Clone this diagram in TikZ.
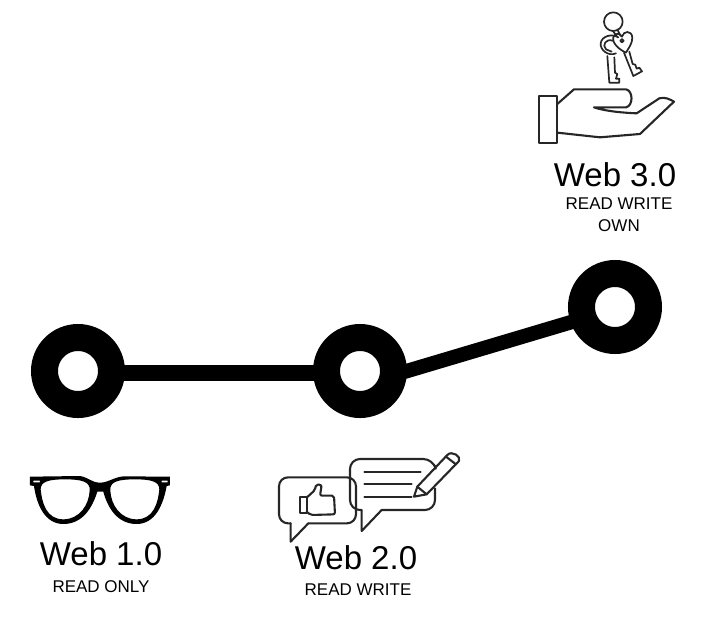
\documentclass[tikz,border=0pt]{standalone}
\usepackage{fontspec}
\setmainfont{Liberation Sans}
\begin{document}
\begin{tikzpicture}[x=1pt,y=-1pt]
\tikzstyle{ring}=[circle,draw=black,line width=27pt,minimum size=67pt,inner sep=0pt]
\tikzstyle{webtitle}=[inner sep=0pt,font=\fontsize{33}{36}\selectfont]
\tikzstyle{websub}=[inner sep=0pt,align=center,font=\fontsize{17}{22}\selectfont]
\tikzstyle{icon}=[line width=2.1pt,line join=round,line cap=round,draw=black!85]
\tikzstyle{keyline}=[icon,line width=1.7pt]
\useasboundingbox (0,0) rectangle (705,625);
\node (web1) [ring] at (78,371) {};
\node (web2) [ring] at (360,371) {};
\node (web3) [ring] at (615,307) {};
\draw[line width=16pt,shorten <=-3pt,shorten >=-3pt] ([yshift=-2pt]web1.east) -- ([yshift=-2pt]web2.west);
\draw[line width=14.5pt,shorten <=-3pt,shorten >=-3pt] (web2.east) -- (web3.199);
\node (title1) [webtitle] at (101,554) {Web 1.0};
\node (title2) [webtitle] at (356,558) {Web 2.0};
\node (title3) [webtitle] at (615,175) {Web 3.0};
\node (sub1) [websub] at (101,587) {READ ONLY};
\node (sub2) [websub] at (358,590) {READ WRITE};
\node (sub3) [websub] at (619,215) {READ WRITE\\OWN};
% glasses
\begin{scope}[shift={(20,460)},x=0.3333pt,y=-0.3333pt]
\fill[black,even odd rule] (30,50) -- (180,48) .. controls (205,52) and (215,68) .. (240,68)
  .. controls (265,68) and (280,52) .. (310,49) -- (450,50) -- (450,76) -- (440,78)
  .. controls (430,135) and (405,192) .. (350,192) .. controls (290,192) and (262,140) .. (250,95)
  -- (232,95)
  .. controls (218,140) and (190,192) .. (130,192) .. controls (75,192) and (50,135) .. (42,78)
  -- (30,76) -- cycle
  (62,88) .. controls (62,65) and (85,58) .. (135,58) .. controls (185,58) and (212,65) .. (209,92)
  .. controls (207,135) and (178,178) .. (130,178) .. controls (80,178) and (66,130) .. (62,88) -- cycle
  (418,88) .. controls (418,65) and (395,58) .. (345,58) .. controls (295,58) and (268,65) .. (271,92)
  .. controls (273,135) and (302,178) .. (350,178) .. controls (400,178) and (414,130) .. (418,88) -- cycle
  (40,62) rectangle (60,67)
  (425,62) rectangle (443,67);
\end{scope}
% speech bubbles
\begin{scope}[shift={(270,445)},x=0.3333pt,y=-0.3333pt]
\draw[icon,rounded corners=9pt] (115,235) -- (258,235) -- (258,97) -- (27,97) -- (27,235) -- (62,235);
\draw[icon] (115,235) -- (62,290) -- (62,235);
% thumb
\draw[icon] (90,155) rectangle (110,205);
\draw[icon,rounded corners=2pt] (110,158) -- (135,135) -- (138,118) -- (155,120) -- (150,152)
  -- (192,152) -- (195,208) -- (122,210) -- (110,200);
% right bubble
\draw[icon,rounded corners=10pt] (335,195) -- (495,195) -- (495,130);
\draw[icon,rounded corners=10pt] (495,62) -- (490,42) -- (240,42) -- (240,195) -- (275,195);
\draw[icon] (335,195) -- (275,258) -- (275,195);
\draw[icon] (283,82) -- (452,82);
\draw[icon] (283,117) -- (425,117);
\draw[icon] (283,155) -- (425,155);
% pencil
\draw[icon] (432,155) -- (442,125) -- (532,30) .. controls (545,15) and (575,35) .. (567,48)
  -- (470,148) -- cycle;
\draw[icon] (442,125) -- (470,148);
\draw[icon] (528,35) -- (558,58);
\end{scope}
% hand and keys
\begin{scope}[shift={(520,0)},x=0.3333pt,y=-0.3333pt]
\draw[icon] (57,287) rectangle (112,428);
\draw[icon] (112,312) -- (162,268) -- (318,268) .. controls (340,272) and (340,318) .. (318,322)
  -- (222,322) .. controls (250,332) and (300,338) .. (350,340) -- (418,295)
  .. controls (435,290) and (450,298) .. (462,305) -- (360,402) -- (240,412) -- (112,398);
\draw[keyline] (280,65) circle (28);
\draw[keyline] (278,92) -- (290,108) (292,88) -- (302,108);
% left key
\draw[keyline] (288,160) .. controls (265,170) and (240,150) .. (242,130)
  .. controls (245,108) and (275,100) .. (295,112);
\draw[keyline] (278,122) .. controls (258,115) and (245,135) .. (258,148) -- (275,155);
\draw[keyline] (262,168) -- (268,248) -- (298,248) -- (298,236) -- (288,236) -- (292,222)
  -- (285,218) -- (283,172);
% heart key
\draw[keyline] (318,158) .. controls (300,150) and (275,130) .. (280,112)
  .. controls (285,98) and (300,98) .. (306,110) .. controls (310,92) and (335,90) .. (337,112)
  .. controls (338,130) and (325,145) .. (318,158) -- cycle;
\draw[keyline] (306,122) circle (5);
\draw[keyline] (312,158) -- (340,228) -- (366,214) -- (358,203) -- (350,206) -- (346,194)
  -- (338,192) -- (328,155);
\end{scope}
\end{tikzpicture}
\end{document}
